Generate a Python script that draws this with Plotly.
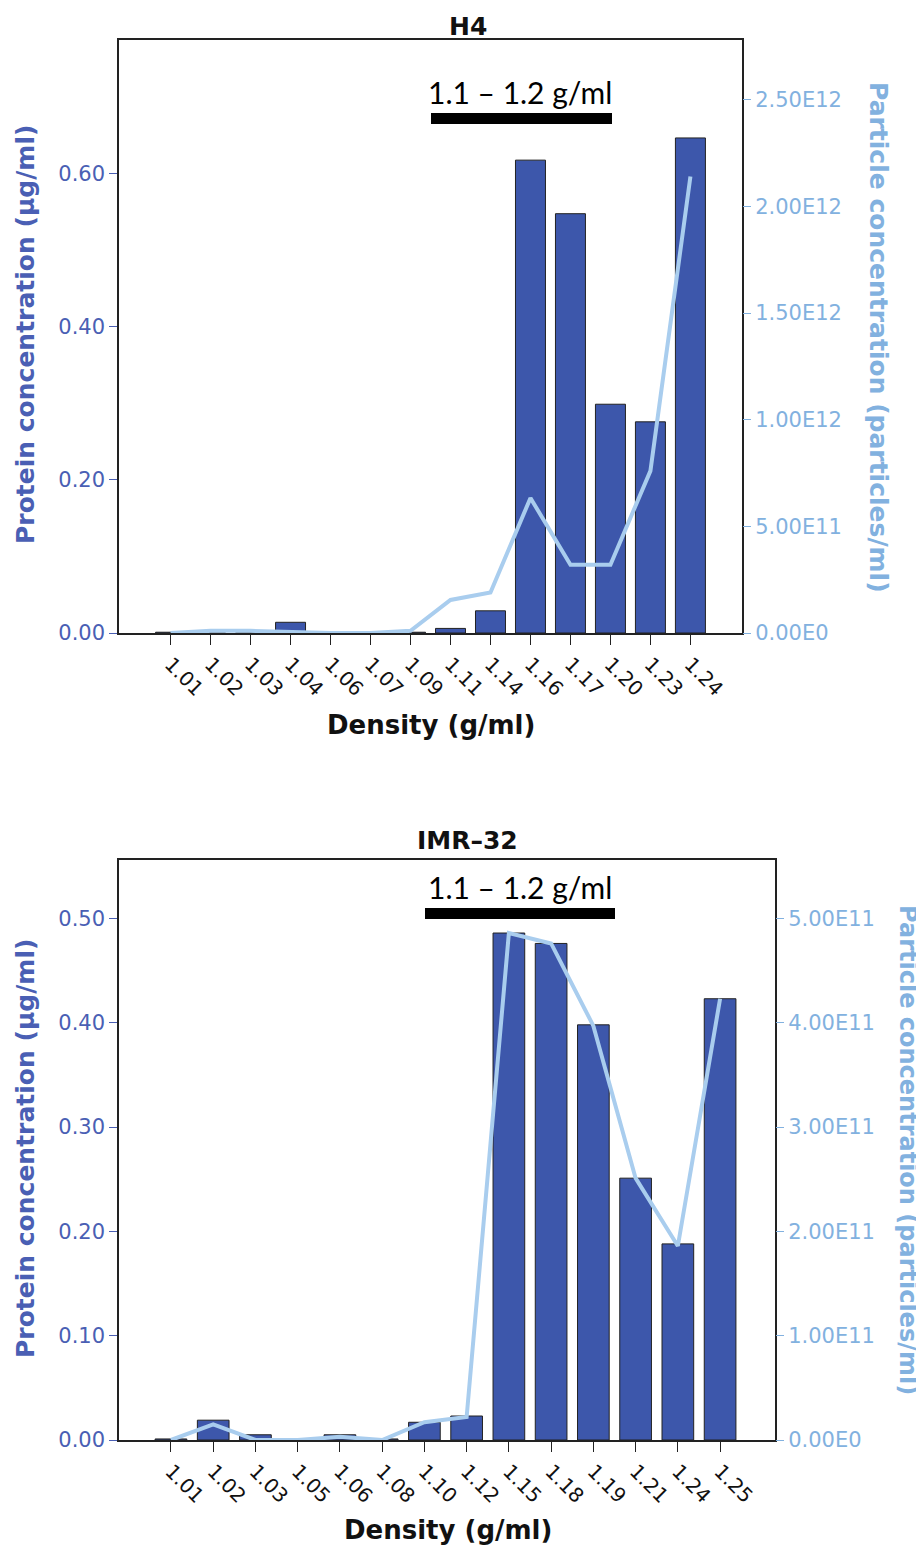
import plotly.graph_objects as go

# ---------------- data ----------------
h4_density = ["1.01", "1.02", "1.03", "1.04", "1.06", "1.07", "1.09",
              "1.11", "1.14", "1.16", "1.17", "1.20", "1.23", "1.24"]
h4_protein = [0.001, 0.0, 0.0, 0.014, 0.0, 0.0, 0.001,
              0.006, 0.029, 0.618, 0.548, 0.299, 0.276, 0.647]
h4_particles = [0.0, 0.01e12, 0.01e12, 0.003e12, 0.0, 0.0, 0.01e12,
                0.155e12, 0.19e12, 0.633e12, 0.32e12, 0.32e12, 0.76e12, 2.14e12]

imr_density = ["1.01", "1.02", "1.03", "1.05", "1.06", "1.08", "1.10",
               "1.12", "1.15", "1.18", "1.19", "1.21", "1.24", "1.25"]
imr_protein = [0.001, 0.019, 0.005, 0.001, 0.005, 0.001, 0.017,
               0.023, 0.486, 0.476, 0.398, 0.251, 0.188, 0.423]
imr_particles = [0.0, 0.15e11, 0.0, 0.0, 0.03e11, 0.0, 0.17e11,
                 0.22e11, 4.86e11, 4.76e11, 3.97e11, 2.51e11, 1.86e11, 4.23e11]

h4_left_ticks = [0.0, 0.2, 0.4, 0.6]
h4_left_text = ["0.00", "0.20", "0.40", "0.60"]
h4_right_ticks = [0, 0.5e12, 1.0e12, 1.5e12, 2.0e12, 2.5e12]
h4_right_text = ["0.00E0", "5.00E11", "1.00E12", "1.50E12", "2.00E12", "2.50E12"]

imr_left_ticks = [0.0, 0.1, 0.2, 0.3, 0.4, 0.5]
imr_left_text = ["0.00", "0.10", "0.20", "0.30", "0.40", "0.50"]
imr_right_ticks = [0, 1e11, 2e11, 3e11, 4e11, 5e11]
imr_right_text = ["0.00E0", "1.00E11", "2.00E11", "3.00E11", "4.00E11", "5.00E11"]

titles = ["H4", "IMR\u201332"]
band_label = "1.1 \u2013 1.2 g/ml"
x_title = "Density (g/ml)"
left_title = "Protein concentration (\u00b5g/ml)"
right_title = "Particle concentration (particles/ml)"

# ---------------- style ----------------
WIN_W, WIN_H = 924, 1546
OFF = 8  # default page body margin
W, H = WIN_W - OFF, WIN_H - OFF
BAR = "#3d57ab"
LINE = "#a9cdee"
LEFT_C = "#4a5fb4"
RIGHT_C = "#82b1df"
FONT = "DejaVu Sans"


def px(x):
    return (x - OFF) / W


def py(y):
    return 1 - (y - OFF) / H


fig = go.Figure()

fig.add_trace(go.Bar(x=h4_density, y=h4_protein, marker_color=BAR,
                     marker_line_color="#222222", marker_line_width=1,
                     width=0.75, xaxis="x", yaxis="y", showlegend=False))
fig.add_trace(go.Scatter(x=h4_density, y=h4_particles, mode="lines",
                         line=dict(color=LINE, width=4), xaxis="x", yaxis="y2",
                         showlegend=False))
fig.add_trace(go.Bar(x=imr_density, y=imr_protein, marker_color=BAR,
                     marker_line_color="#222222", marker_line_width=1,
                     width=0.75, xaxis="x2", yaxis="y3", showlegend=False))
fig.add_trace(go.Scatter(x=imr_density, y=imr_particles, mode="lines",
                         line=dict(color=LINE, width=4), xaxis="x2", yaxis="y4",
                         showlegend=False))

xcommon = dict(type="category", showline=True, linecolor="#222222", linewidth=1.5,
               mirror=True, ticks="outside", ticklen=10, tickcolor="#222222",
               tickangle=45, tickfont=dict(family=FONT, size=20, color="#111111"),
               showgrid=False, zeroline=False, automargin=False)
ylcommon = dict(showline=True, linecolor="#222222", linewidth=1.5, mirror=True,
                ticks="outside", ticklen=8, tickcolor=LEFT_C, showgrid=False,
                zeroline=False, tickfont=dict(family=FONT, size=21, color=LEFT_C),
                automargin=False)
yrcommon = dict(side="right", showline=False, ticks="outside", ticklen=8,
                tickcolor=RIGHT_C, showgrid=False, zeroline=False,
                tickfont=dict(family=FONT, size=21, color=RIGHT_C), automargin=False)

fig.update_layout(
    width=W, height=H, margin=dict(l=0, r=0, t=0, b=0),
    paper_bgcolor="white", plot_bgcolor="white",
    xaxis=dict(xcommon, domain=[px(119), px(742)], anchor="y",
               range=[-1.29, 14.29]),
    yaxis=dict(ylcommon, domain=[py(633), py(40)], anchor="x",
               range=[0, 0.775], tickvals=h4_left_ticks, ticktext=h4_left_text),
    yaxis2=dict(yrcommon, overlaying="y", anchor="x",
                range=[0, 2.78e12], tickvals=h4_right_ticks, ticktext=h4_right_text),
    xaxis2=dict(xcommon, domain=[px(119), px(775)], anchor="y3",
                range=[-1.23, 14.3]),
    yaxis3=dict(ylcommon, domain=[py(1440), py(860)], anchor="x2",
                range=[0, 0.556], tickvals=imr_left_ticks, ticktext=imr_left_text),
    yaxis4=dict(yrcommon, overlaying="y3", anchor="x2",
                range=[0, 5.56e11], tickvals=imr_right_ticks, ticktext=imr_right_text),
)


def note(text, x, y, size, color, angle=0, family=FONT):
    fig.add_annotation(text=text, x=px(x), y=py(y), xref="paper", yref="paper",
                       showarrow=False, textangle=angle, xanchor="center",
                       yanchor="middle",
                       font=dict(family=family, size=size, color=color))


# chart titles
note("<b>" + titles[0] + "</b>", 468, 27, 25, "#111111")
note("<b>" + titles[1] + "</b>", 468, 841, 25, "#111111")

# axis titles
note("<b>" + x_title + "</b>", 431, 725, 26, "#111111")
note("<b>" + x_title + "</b>", 448, 1530, 26, "#111111")
note("<b>" + left_title + "</b>", 25, 335, 25, LEFT_C, angle=-90)
note("<b>" + left_title + "</b>", 25, 1149, 25, LEFT_C, angle=-90)
note("<b>" + right_title + "</b>", 878, 337, 25, RIGHT_C, angle=90)
note("<b>" + right_title + "</b>", 908, 1150, 24, RIGHT_C, angle=90)

# density band labels
for (cx, ty, x0, x1, y0, y1) in [(520, 92, 431, 612, 113, 124),
                                 (520, 887, 425, 615, 908, 919)]:
    note(band_label, cx, ty, 30, "#000000", family="Lato")
    fig.add_shape(type="rect", xref="paper", yref="paper",
                  x0=px(x0), x1=px(x1), y0=py(y1), y1=py(y0),
                  fillcolor="black", line=dict(width=0))

fig.write_html("out.html")
